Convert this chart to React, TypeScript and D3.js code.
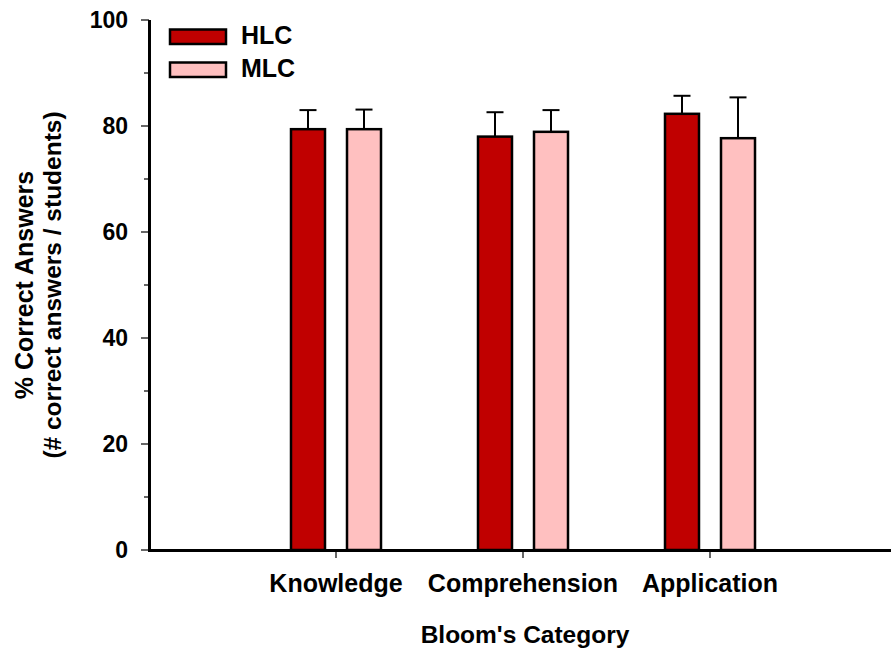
import React from "react";
import * as d3 from "d3";

const categories = ["Knowledge", "Comprehension", "Application"];
const series = ["HLC", "MLC"];
const hlcValues = [79.4, 78.0, 82.3];
const hlcErrors = [3.6, 4.6, 3.4];
const mlcValues = [79.4, 78.9, 77.7];
const mlcErrors = [3.7, 4.1, 7.7];
const yTicks = [0, 20, 40, 60, 80, 100];
const yMinorTicks = [10, 30, 50, 70, 90];
const colors = ["#C00000", "#FFC0C0"];

const W = 891;
const H = 649;
const FONT = "Liberation Sans, Arial, Helvetica, sans-serif";

export default function App() {
  const y = d3.scaleLinear().domain([0, 100]).range([550, 20]);
  const x = d3.scaleLinear().domain([0, categories.length + 1]).range([149, 897]);
  const inner = d3.scaleBand<string>().domain(series).range([-45, 45]).paddingInner(0.393).paddingOuter(0);
  const values = [hlcValues, mlcValues];
  const errors = [hlcErrors, mlcErrors];

  return (
    <svg width={W} height={H} style={{ position: "absolute", left: 0, top: 0, background: "#fff" }} fontFamily={FONT}>
      {/* bars */}
      {categories.map((c, ci) =>
        series.map((s, si) => {
          const v = values[si][ci];
          const e = errors[si][ci];
          const bx = x(ci + 1) + (inner(s) as number);
          const bw = inner.bandwidth();
          const cx = bx + bw / 2;
          return (
            <g key={c + s}>
              <line x1={cx} x2={cx} y1={y(v)} y2={y(v + e)} stroke="#000" strokeWidth={2} />
              <line x1={cx - 8.5} x2={cx + 8.5} y1={y(v + e)} y2={y(v + e)} stroke="#000" strokeWidth={2} />
              <rect x={bx} y={y(v)} width={bw} height={y(0) - y(v)} fill={colors[si]} stroke="#000" strokeWidth={2.5} />
            </g>
          );
        })
      )}
      {/* y axis */}
      <line x1={149.5} x2={149.5} y1={y(100)} y2={y(0) + 1.5} stroke="#000" strokeWidth={3} />
      {yTicks.map((t) => (
        <g key={t}>
          <line x1={141} x2={149} y1={y(t)} y2={y(t)} stroke="#000" strokeWidth={1.2} />
          <text x={128} y={y(t)} dy="0.36em" textAnchor="end" fontSize={23} fontWeight="bold">
            {t}
          </text>
        </g>
      ))}
      {yMinorTicks.map((t) => (
        <line key={t} x1={144} x2={149} y1={y(t)} y2={y(t)} stroke="#000" strokeWidth={1.2} />
      ))}
      {/* x axis */}
      <line x1={148} x2={W} y1={550.5} y2={550.5} stroke="#000" strokeWidth={3} />
      {categories.map((c, ci) => (
        <g key={c}>
          <line x1={x(ci + 1)} x2={x(ci + 1)} y1={551} y2={558} stroke="#000" strokeWidth={1.2} />
          <text x={x(ci + 1)} y={592} textAnchor="middle" fontSize={25} fontWeight="bold">
            {c}
          </text>
        </g>
      ))}
      <text x={525} y={643} textAnchor="middle" fontSize={24.5} fontWeight="bold">
        Bloom's Category
      </text>
      {/* y label */}
      <g transform={`translate(0, ${(y(0) + y(100)) / 2}) rotate(-90)`}>
        <text x={0} y={33} textAnchor="middle" fontSize={25} fontWeight="bold">
          % Correct Answers
        </text>
        <text x={0} y={61} textAnchor="middle" fontSize={24.5} fontWeight="bold">
          (# correct answers / students)
        </text>
      </g>
      {/* legend */}
      {series.map((s, si) => (
        <g key={s} transform={`translate(0, ${si * 33})`}>
          <rect x={170} y={29.5} width={56} height={14.5} fill={colors[si]} stroke="#000" strokeWidth={2.5} />
          <text x={241} y={44} fontSize={25} fontWeight="bold">
            {s}
          </text>
        </g>
      ))}
    </svg>
  );
}
